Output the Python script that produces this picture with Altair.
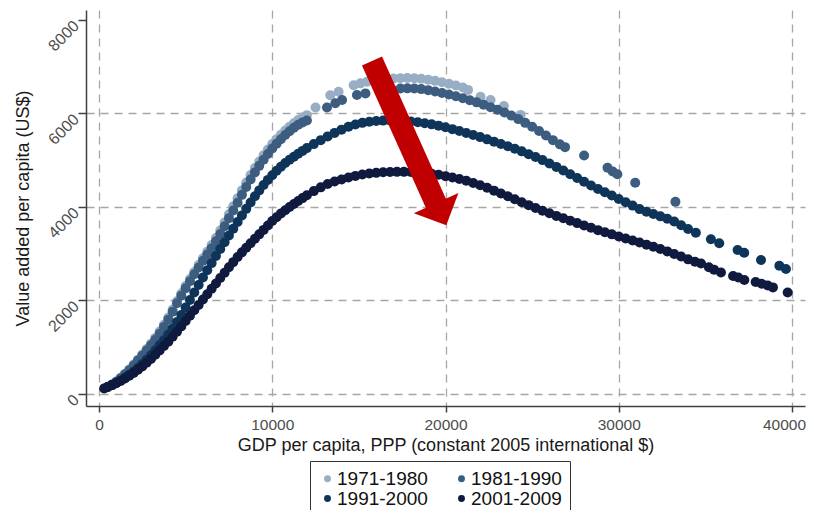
import altair as alt
import pandas as pd

periods = ["1971-1980", "1981-1990", "1991-2000", "2001-2009"]
colors = ["#98aec4", "#3d5d80", "#0e3559", "#0f1a3e"]

# ---- 1971-1980 ----
x_7180 = [500, 750, 1000, 1250, 1500, 1750, 2000, 2250, 2500, 2750, 3000, 3250, 3500, 3750,
          4000, 4250, 4500, 4750, 5000, 5250, 5500, 5750, 6000, 6250, 6500, 6750, 7000, 7250,
          7500, 7750, 8000, 8250, 8500, 8750, 9000, 9250, 9500, 9750, 10000, 10250, 10500,
          10750, 11000, 11250, 11500, 11750, 12000,
          12500, 13350, 13830, 14700, 15090, 15470, 16000, 16600,
          17000, 17400, 17800, 18200, 18600, 19000, 19400, 19800, 20200, 20600, 21000,
          21300, 22020, 22600, 23370, 24330]
y_7180 = [150, 205, 265, 345, 430, 525, 630, 735, 845, 960, 1075, 1200, 1335, 1480,
          1635, 1805, 1985, 2150, 2310, 2460, 2610, 2760, 2905, 3045, 3185, 3335, 3495, 3670,
          3845, 4015, 4185, 4355, 4525, 4685, 4835, 4975, 5105, 5230, 5345, 5450, 5545,
          5635, 5715, 5790, 5860, 5915, 5965,
          6130, 6390, 6465, 6605, 6645, 6680, 6715, 6740,
          6748, 6755, 6758, 6755, 6742, 6722, 6698, 6670, 6638, 6600, 6555,
          6505, 6360, 6290, 6160, 5970]

# ---- 1981-1990 ----
x_8190 = [500, 750, 1000, 1250, 1500, 1750, 2000, 2250, 2500, 2750, 3000, 3250, 3500, 3750,
          4000, 4250, 4500, 4750, 5000, 5250, 5500, 5750, 6000, 6250, 6500, 6750, 7000, 7250,
          7500, 7750, 8000, 8250, 8500, 8750, 9000, 9250, 9500, 9750, 10000, 10250, 10500,
          10750, 11000, 11250, 11500, 11750, 12000,
          13160, 13640, 14030, 14890, 15380, 16200, 16900,
          17400, 17800, 18200, 18600, 19000, 19400, 19800, 20200, 20600, 21000, 21400, 21800,
          22200, 22600, 23000, 23400, 23800, 24200, 24600, 25000, 25400, 25800, 26200, 26600,
          26900, 28000, 29350, 29650, 29920, 30950, 33270]
y_8190 = [150, 200, 260, 335, 420, 510, 610, 715, 820, 930, 1040, 1160, 1290, 1435,
          1590, 1760, 1940, 2100, 2260, 2410, 2560, 2705, 2850, 2985, 3120, 3265, 3420, 3590,
          3760, 3925, 4090, 4260, 4430, 4590, 4740, 4880, 5010, 5135, 5250, 5355, 5450,
          5540, 5620, 5695, 5760, 5810, 5850,
          6130, 6220, 6290, 6395, 6430, 6490, 6520,
          6535, 6538, 6535, 6522, 6500, 6472, 6440, 6405, 6368, 6328, 6285, 6238,
          6188, 6135, 6080, 6020, 5955, 5880, 5800, 5715, 5625, 5530, 5430, 5340,
          5280, 5100, 4840, 4760, 4700, 4520, 4110]

# ---- 1991-2000 ----
x_9100 = [500, 750, 1000, 1250, 1500, 1750, 2000, 2250, 2500, 2750, 3000, 3250, 3500, 3750,
          4000, 4250, 4500, 4750, 5000, 5250, 5500, 5750, 6000, 6250, 6500, 6750, 7000, 7250,
          7500, 7750, 8000, 8250, 8500, 8750, 9000, 9250, 9500, 9750, 10000, 10250, 10500,
          10750, 11000, 11250, 11500, 11750, 12000,
          12400, 12800, 13200, 13600, 14000, 14400, 14800, 15200, 15600, 16000,
          16400, 16800, 17200, 17600, 18000, 18400, 18800, 19200, 19600, 20000,
          20400, 20800, 21200, 21600, 22000, 22400, 22800, 23200, 23600, 24000,
          24400, 24800, 25200, 25600, 26000, 26400, 26800, 27200, 27600, 28000,
          28400, 28800, 29200, 29600, 30000, 30400, 30800, 31200, 31600, 32000,
          32400, 32800, 33200, 33600, 34000,
          34450, 35320, 35800, 36860, 37240, 38210, 39270, 39650]
y_9100 = [150, 190, 240, 290, 350, 410, 480, 555, 640, 730, 830, 930, 1040, 1150,
          1270, 1400, 1540, 1690, 1850, 2010, 2170, 2330, 2490, 2645, 2800, 2950, 3100, 3245,
          3390, 3535, 3680, 3820, 3960, 4095, 4230, 4355, 4470, 4580, 4680, 4775, 4860,
          4940, 5010, 5075, 5140, 5200, 5260,
          5345, 5430, 5510, 5585, 5655, 5715, 5765, 5800, 5825, 5840,
          5848, 5850, 5848, 5842, 5830, 5814, 5793, 5768, 5740, 5705,
          5665, 5625, 5583, 5540, 5495, 5447, 5398, 5349, 5300, 5245,
          5190, 5130, 5068, 5003, 4930, 4858, 4780, 4700, 4620, 4540,
          4460, 4385, 4315, 4245, 4170, 4100, 4030, 3955, 3900, 3850,
          3800, 3750, 3690, 3610, 3530,
          3450, 3310, 3225, 3080, 3020, 2865, 2745, 2675]

# ---- 2001-2009 ----
x_0109 = [300, 500, 750, 1000, 1250, 1500, 1750, 2000, 2250, 2500, 2750, 3000, 3250, 3500, 3750,
          4000, 4250, 4500, 4750, 5000, 5250, 5500, 5750, 6000, 6250, 6500, 6750, 7000, 7250,
          7500, 7750, 8000, 8250, 8500, 8750, 9000, 9250, 9500, 9750, 10000, 10250, 10500,
          10750, 11000, 11250, 11500, 11750, 12000,
          12400, 12800, 13200, 13600, 14000, 14400, 14800, 15200, 15600, 16000,
          16400, 16800, 17200, 17600, 18000, 18400, 18800, 19200, 19600, 20000,
          20400, 20800, 21200, 21600, 22000, 22400, 22800, 23200, 23600, 24000,
          24400, 24800, 25200, 25600, 26000, 26400, 26800, 27200, 27600, 28000,
          28400, 28800, 29200, 29600, 30000, 30400, 30800, 31200, 31600, 32000,
          32400, 32800, 33200, 33600, 34000, 34400, 34750,
          35200, 35500, 35900, 36600, 36900, 37250, 37900, 38250, 38600, 38900, 39750]
y_0109 = [120, 150, 190, 230, 280, 330, 390, 450, 520, 590, 670, 750, 840, 930, 1025,
          1120, 1225, 1330, 1445, 1560, 1675, 1790, 1905, 2020, 2135, 2250, 2365, 2480, 2595,
          2710, 2820, 2930, 3030, 3130, 3225, 3320, 3415, 3510, 3605, 3700, 3780, 3860,
          3930, 4000, 4065, 4130, 4190, 4250,
          4340, 4420, 4490, 4545, 4590, 4630, 4665, 4695, 4715, 4730,
          4742, 4750, 4752, 4752, 4748, 4740, 4728, 4710, 4688, 4660,
          4630, 4600, 4560, 4515, 4465, 4410, 4350, 4290, 4230, 4165,
          4100, 4040, 3980, 3920, 3865, 3810, 3760, 3705, 3655, 3605,
          3555, 3505, 3460, 3415, 3370, 3325, 3285, 3240, 3195, 3150,
          3100, 3050, 2995, 2940, 2880, 2830, 2790,
          2710, 2660, 2600, 2525, 2490, 2440, 2395, 2360, 2320, 2280, 2170]

x_ticks = [0, 10000, 20000, 30000, 40000]
y_ticks = [0, 2000, 4000, 6000, 8000]

# red annotation arrow (data coordinates)
arrow_x = [15758, 19567]
arrow_y = [7123, 3979]
head_x = [19752]
head_y = [3846]

rows = []
idx = 0
for p, xs, ys in [(periods[0], x_7180, y_7180), (periods[1], x_8190, y_8190),
                  (periods[2], x_9100, y_9100), (periods[3], x_0109, y_0109)]:
    assert len(xs) == len(ys), (p, len(xs), len(ys))
    for a, b in zip(xs, ys):
        rows.append({"gdp": a, "va": b, "period": p, "idx": idx})
        idx += 1
df = pd.DataFrame(rows)
arrow_df = pd.DataFrame({"gdp": arrow_x, "va": arrow_y, "idx": [0, 1]})
head_df = pd.DataFrame({"gdp": head_x, "va": head_y})

FONT = "Liberation Sans"

x_enc = alt.X(
    "gdp:Q",
    scale=alt.Scale(domain=[-750, 40750], nice=False, zero=False),
    axis=alt.Axis(
        values=x_ticks, format="d", labelFlush=False, labelOverlap=False,
        title="GDP per capita, PPP (constant 2005 international $)",
        titleX=359.5, titleY=44, titleAlign="center", titleBaseline="alphabetic",
        titleFontSize=18, titleFontWeight="normal", titleFont=FONT, titleColor="#1a1a1a",
        labelFontSize=15.5, labelFont=FONT, labelColor="#4d4d4d", labelPadding=5,
        labelOffset={"condition": {"test": "datum.value == 40000", "value": -8}, "value": 0},
        tickSize=6,
    ),
)
y_enc = alt.Y(
    "va:Q",
    scale=alt.Scale(domain=[-257, 8214], nice=False, zero=False),
    axis=alt.Axis(
        values=y_ticks, format="d", labelOverlap=False,
        title="Value added per capita (US$)",
        titleX=-63, titleY=198, titleAngle=270, titleAlign="center", titleBaseline="middle",
        titleFontSize=18, titleFontWeight="normal", titleFont=FONT, titleColor="#1a1a1a",
        labelAngle=315, labelAlign="right", labelBaseline="middle", labelOffset=3,
        labelFontSize=16, labelFont=FONT, labelColor="#4d4d4d", labelPadding=2,
        tickSize=8,
        gridOpacity={"condition": {"test": "datum.value == 8000", "value": 0}, "value": 1},
    ),
)

points = alt.Chart(df).mark_circle(size=100, opacity=1).encode(
    x=x_enc,
    y=y_enc,
    color=alt.Color(
        "period:N",
        scale=alt.Scale(domain=periods, range=colors),
        legend=alt.Legend(
            title=None, orient="none", legendX=224, legendY=451, columns=2,
            direction="horizontal",
            strokeColor="#333333", fillColor="white", padding=8,
            labelFontSize=19, labelFont=FONT, labelColor="#111111",
            symbolType="circle", symbolSize=48, symbolStrokeWidth=0, symbolOpacity=1,
            columnPadding=24, rowPadding=0, labelOffset=0,
        ),
    ),
    order=alt.Order("idx:Q"),
)

shaft = alt.Chart(arrow_df).mark_line(
    strokeWidth=22, strokeCap="butt", color="#c00000"
).encode(x=x_enc, y=y_enc, order=alt.Order("idx:Q"))

head = alt.Chart(head_df).mark_point(
    shape="M -1 -0.5 L 1 -0.5 L 0 0.5 Z", size=2401, angle=335.5,
    filled=True, color="#c00000", opacity=1, strokeWidth=0,
).encode(x=x_enc, y=y_enc)

chart = alt.layer(points, shaft, head).properties(
    width=719, height=396,
    autosize=alt.AutoSizeParams(type="none"),
    padding={"left": 78, "top": 2, "right": 1, "bottom": 104},
    background="white",
).configure_view(stroke=None).configure_axis(
    domainColor="#404040", domainWidth=1.5, tickColor="#404040", tickWidth=1.5,
    gridColor="#a6a6a6", gridDash=[8, 6], gridWidth=1.3,
)

chart.save("out.html", embed_options={"renderer": "svg", "actions": False})
